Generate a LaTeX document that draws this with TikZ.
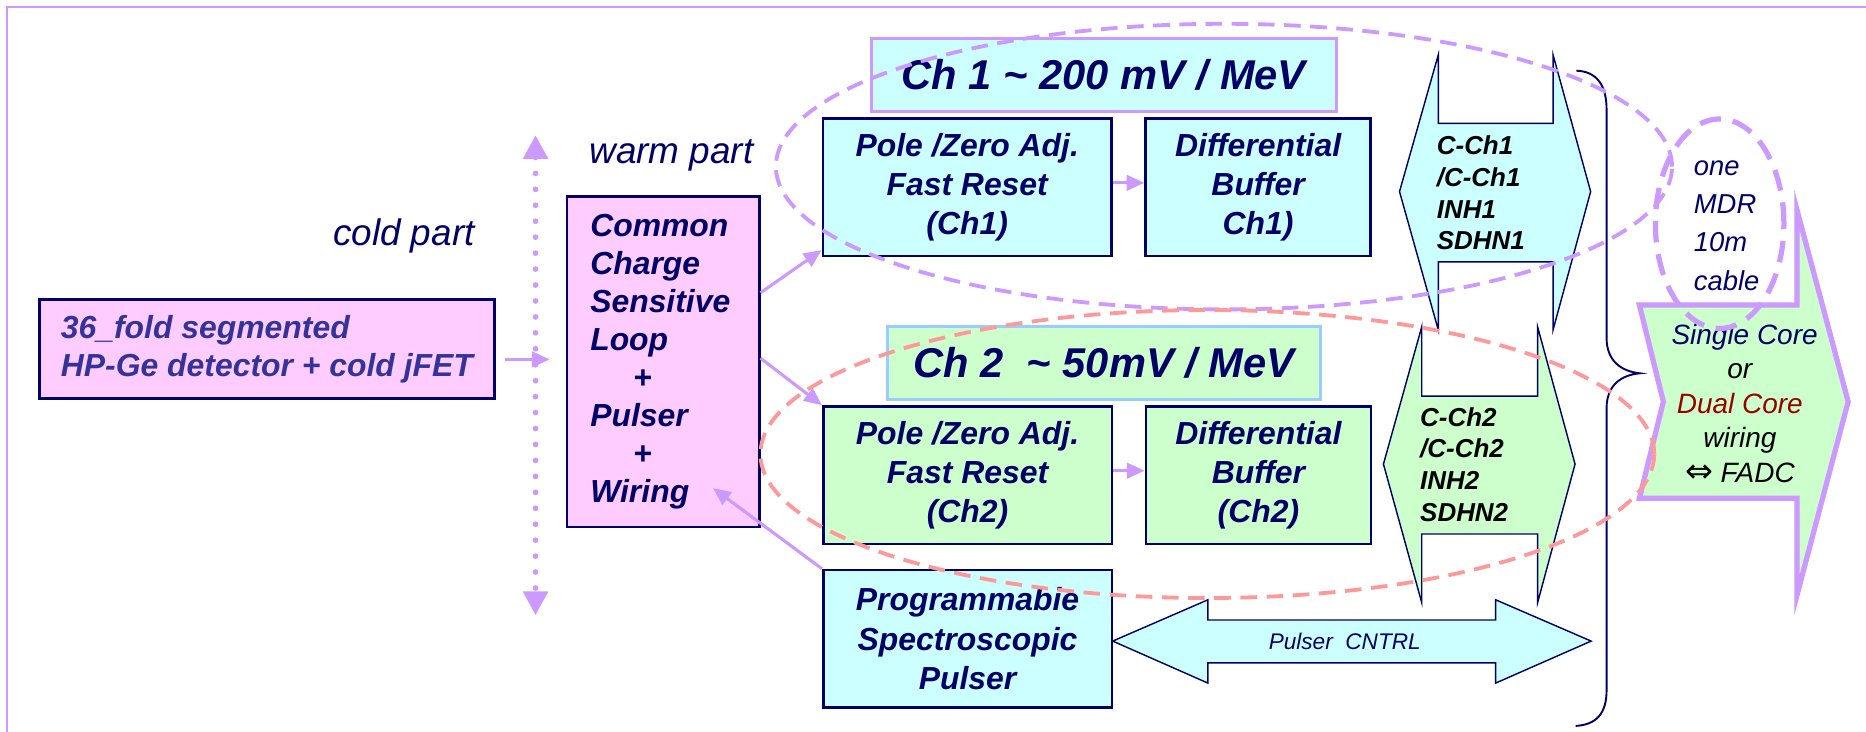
\documentclass[tikz,border=0pt]{standalone}
\usepackage{fontspec}
\setmainfont{Liberation Sans}
\newfontfamily\symbfont{DejaVu Sans}
\usetikzlibrary{positioning,arrows.meta}
\definecolor{cnavy}{HTML}{000066}
\definecolor{cdet}{HTML}{333399}
\definecolor{pinkfill}{HTML}{FFCCFF}
\definecolor{cyanfill}{HTML}{CCFFFF}
\definecolor{greenfill}{HTML}{CCFFCC}
\definecolor{lilac}{HTML}{CC99FF}
\definecolor{csalmon}{HTML}{FF9999}
\definecolor{skyline}{HTML}{99CCFF}
\definecolor{cdarkred}{HTML}{990000}
\newcommand{\bfit}[2]{\fontsize{#1}{#2}\selectfont\bfseries\itshape}
\newcommand{\rmit}[2]{\fontsize{#1}{#2}\selectfont\itshape}
\tikzset{
  blk/.style     ={rectangle, draw=cnavy, line width=1.1pt, fill=cyanfill,
                   text=cnavy, align=center, inner sep=0pt,
                   font=\bfit{13.4}{16.5},
                   minimum width=121.25pt, minimum height=57.75pt},
  pinkblk/.style ={blk, fill=pinkfill, font=\bfit{13.4}{16}, align=left},
  greenblk/.style={blk, fill=greenfill},
  title/.style   ={rectangle, fill=cyanfill, draw=lilac, line width=1.2pt,
                   text=cnavy, font=\bfit{17.5}{20}, inner sep=0pt,
                   minimum width=195.5pt, minimum height=31pt},
  tag/.style     ={text=cnavy, font=\rmit{15.5}{18}, inner sep=0pt},
  plugtext/.style={text=black, font=\bfit{10.9}{13.35}, align=left, inner sep=0pt},
  plug/.style    ={draw=cnavy, line width=0.6pt, fill=cyanfill, line join=miter},
  bigarrow/.style={draw=lilac, line width=2.2pt, fill=greenfill, line join=miter},
  arr/.style     ={-{Triangle[length=7.5pt,width=6.5pt]}, line width=1.3pt, draw=lilac},
  divider/.style ={draw=lilac, line width=2.4pt, line cap=round,
                   dash pattern=on 0pt off 6.7pt,
                   {Triangle[length=10pt,width=10pt]}-{Triangle[length=10pt,width=10pt]}},
  ring/.style    ={draw=lilac, line width=1.6pt, dash pattern=on 7pt off 4pt},
  cablering/.style={draw=lilac, line width=2.2pt, dash pattern=on 9pt off 5pt},
  frame/.style   ={draw=lilac, line width=0.9pt},
  braceline/.style={draw=cnavy, line width=0.8pt},
}
\begin{document}
\begin{tikzpicture}[x=0.5pt, y=-0.5pt]
  \useasboundingbox (0,0) rectangle (1568,615);
  % slide frame
  \draw[frame] (5.8,615) -- (5.8,5.6) -- (1568,5.6);

  % cold side
  \node[pinkblk, text=cdet, minimum width=191.3pt, minimum height=41.6pt]
       (det) at (224.3,293.1) {36\_fold segmented\\HP-Ge detector + cold jFET};
  \node[tag, anchor=base west] (cold) at (279.5,206) {cold part};
  \node[tag, anchor=base west] (warm) at (495,137) {warm part};

  % cold / warm border
  \coordinate (wall top) at (450,113.5);
  \coordinate (wall bot) at (450,517);
  \draw[divider] (wall top) -- (wall bot);

  % charge sensitive loop
  \node[pinkblk, text width=61.25pt, inner xsep=9.75pt, minimum width=80.75pt,
        minimum height=138.8pt] (csl) at (557.25,304)
       {Common\\Charge\\Sensitive\\Loop\\\hspace*{18pt}+\\Pulser\\\hspace*{18pt}+\\Wiring};

  % channel 1
  \node[blk] (pz1) at (812.75,157.25) {Pole /Zero Adj.\\Fast Reset\\(Ch1)};
  \node[blk, right=13.25pt of pz1, minimum width=94.5pt] (db1) {Differential\\Buffer\\Ch1)};
  \node[title] (ch1) at (927.5,63) {Ch 1 \textasciitilde{} 200 mV / MeV};

  % channel 2
  \node[greenblk] (pz2) at (813,399.35) {Pole /Zero Adj.\\Fast Reset\\(Ch2)};
  \node[greenblk, right=13.25pt of pz2, minimum width=94.5pt] (db2) {Differential\\Buffer\\(Ch2)};
  \node[title, fill=greenfill, draw=skyline, minimum width=182pt, minimum height=30.75pt]
       (ch2) at (927.65,305.25) {Ch 2\ \ \textasciitilde{} 50mV / MeV};

  % pulser
  \node[blk, below=9.85pt of pz2] (pulser) {Programmabie\\Spectroscopic\\Pulser};

  % arrows
  \draw[arr, shorten <=3.7pt, shorten >=6.75pt] ([yshift=-4.45pt]det.east) -- ([yshift=-4.45pt]det.east -| csl.west);
  \draw[arr] ([yshift=29pt]csl.east) -- ([yshift=3pt]pz1.south west);
  \draw[arr] ([yshift=1.5pt]csl.east) -- (pz2.north west);
  \draw[arr] (pulser.north west) -- ([xshift=-20pt,yshift=16.9pt]csl.south east);
  \draw[arr] ([yshift=1.8pt]pz1.east) -- ([yshift=1.8pt]db1.west);
  \draw[arr] ([yshift=1.9pt]pz2.east) -- ([yshift=1.9pt]db2.west);

  % connector signals
  \draw[plug] (1176,161) -- (1208.6,46) -- (1208.6,103.6) -- (1305,103.6) -- (1305,46)
        -- (1336.6,161) -- (1305,277.3) -- (1305,220) -- (1208.6,220) -- (1208.6,277.3) -- cycle;
  \node[plugtext, anchor=west] (sig1) at (1207,162.2) {C-Ch1\\/C-Ch1\\INH1\\SDHN1};
  \draw[plug, fill=greenfill] (1162.5,390) -- (1194.7,274.5) -- (1194.7,332.8) -- (1292,332.8)
        -- (1292,274.5) -- (1323.5,390) -- (1292,506.5) -- (1292,448.7) -- (1194.7,448.7)
        -- (1194.7,506.5) -- cycle;
  \node[plugtext, anchor=west] (sig2) at (1193,390.4) {C-Ch2\\/C-Ch2\\INH2\\SDHN2};

  % pulser control
  \draw[plug] (935,538.7) -- (1015,504) -- (1015,521) -- (1256.8,521) -- (1256.8,504)
        -- (1337,538.7) -- (1256.8,574) -- (1256.8,557) -- (1015,557) -- (1015,574) -- cycle;
  \node[text=cnavy, font=\rmit{9.5}{11}, anchor=base, inner sep=0pt] (cntrl) at (1130,546) {Pulser\ \ CNTRL};

  % brace
  \draw[braceline] (1324.6,59.4) .. controls (1342,60) and (1350,72) .. (1350,92) -- (1350,284)
        .. controls (1350,303) and (1362,312) .. (1378,313.7)
        .. controls (1362,315) and (1350,324) .. (1350,343) -- (1350,580)
        .. controls (1350,600) and (1341,609) .. (1324,610);

  % output to FADC
  \draw[bigarrow] (1377.6,256.3) -- (1510,256.3) -- (1510,176.5) -- (1553,337.5) -- (1510,500)
        -- (1510,418.7) -- (1377.6,418.7) -- (1397.7,337.5) -- cycle;
  \node[font=\rmit{11.75}{14.5}, align=center, inner sep=0pt] (fadc) at (1462,339)
       {{\color{cnavy}\hspace*{4pt}Single Core}\\or\\{\color{cdarkred}Dual Core}\\wiring\\{\symbfont\fontsize{14}{14}\selectfont ⇔} FADC};

  % cable
  \node[tag, font=\rmit{11.5}{16.1}, align=left, anchor=west] (cable) at (1423,189.4) {one\\MDR\\10m\\cable};

  % channel groupings
  \draw[ring] (1028.5,140) ellipse [x radius=188.25pt, y radius=60pt];
  \draw[ring, draw=csalmon] (1014.5,381.5) ellipse [x radius=187.75pt, y radius=60.5pt];
  \draw[cablering] (1445,188) ellipse [x radius=27pt, y radius=44pt];
\end{tikzpicture}
\end{document}
